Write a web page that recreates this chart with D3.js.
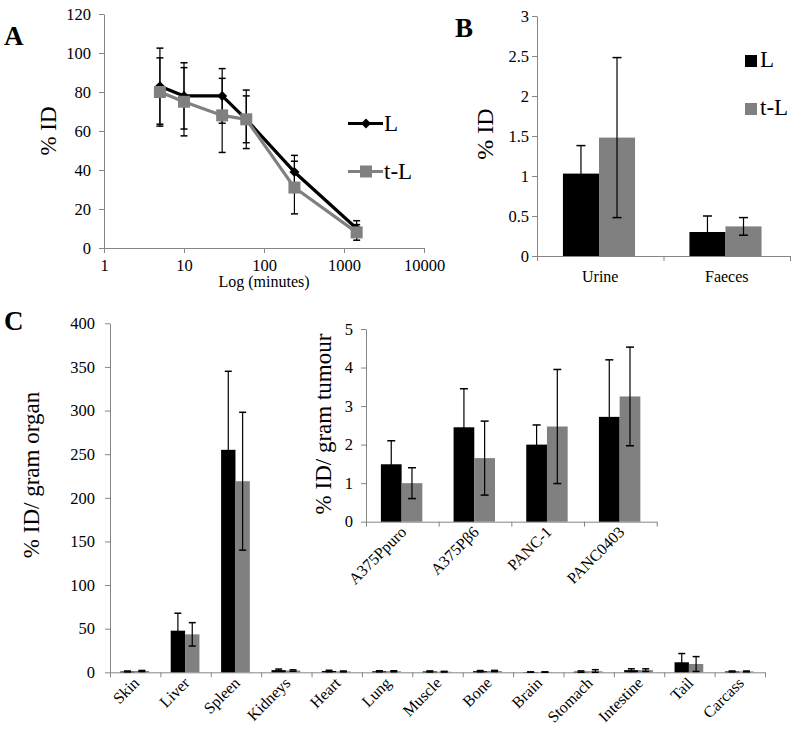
<!DOCTYPE html>
<html>
<head>
<meta charset="utf-8">
<script src="https://cdn.jsdelivr.net/npm/d3@7"></script>
<style>
  body { margin: 0; background: #fff; }
  svg text { font-family: "Liberation Serif", "Times New Roman", serif; }
</style>
</head>
<body>
<script>
// panel A - % ID over time (log minutes)
var times = [5, 10, 30, 60, 240, 1440];
var aL = [83, 78, 78, 66, 39, 10];
var aLErr = [19.5, 17, 14, 15, 8.5, 4];
var aT = [80, 75, 68, 66, 31, 8];
var aTErr = [17.5, 17.5, 19, 12, 13.5, 4];
var aYTicks = [0, 20, 40, 60, 80, 100, 120];
var aXTicks = [1, 10, 100, 1000, 10000];

// panel B - excretion
var excreta = ['Urine', 'Faeces'];
var bL = [1.03, 0.30];
var bLErr = [0.35, 0.20];
var bT = [1.48, 0.37];
var bTErr = [1.00, 0.11];
var bYTicks = [0, 0.5, 1, 1.5, 2, 2.5, 3];

// panel C - organs
var organs = ['Skin', 'Liver', 'Spleen', 'Kidneys', 'Heart', 'Lung', 'Muscle', 'Bone', 'Brain', 'Stomach', 'Intestine', 'Tail', 'Carcass'];
var cL = [1, 47.7, 255, 2.5, 1.5, 1.2, 1, 1.3, 0.3, 0.8, 2.5, 11.5, 1];
var cLErr = [0.5, 20, 90, 1.2, 0.8, 0.6, 0.6, 0.7, 0.2, 0.8, 1.5, 10, 0.5];
var cT = [1.5, 43.5, 219, 2, 1, 1.2, 0.7, 1.5, 0.3, 1.2, 2.5, 9.5, 1];
var cTErr = [0.6, 13.4, 79, 0.8, 0.5, 0.6, 0.4, 0.7, 0.2, 1.8, 1.5, 8.5, 0.5];
var cYTicks = [0, 50, 100, 150, 200, 250, 300, 350, 400];

// panel C inset - tumours
var tumours = ['A375Ppuro', 'A375P\u03B26', 'PANC-1', 'PANC0403'];
var tL = [1.49, 2.45, 2.0, 2.72];
var tLErr = [0.61, 1.0, 0.51, 1.48];
var tT = [1.0, 1.65, 2.47, 3.25];
var tTErr = [0.4, 0.96, 1.48, 1.28];
var tYTicks = [0, 1, 2, 3, 4, 5];

var series = ['L', 't-L'];
var colors = {'L': '#000000', 't-L': '#808080'};
var FONT = '"Liberation Serif", "Times New Roman", serif';
var AX = '#868686';

var svg = d3.select('body').append('svg')
    .attr('width', 796)
    .attr('height', 736);

var styleAxis = (g, size) => {
    g.attr('font-family', FONT).attr('font-size', size || 16);
    g.select('.domain').attr('stroke', AX);
    g.selectAll('.tick line').attr('stroke', AX);
    g.selectAll('.tick text').attr('fill', '#000');
}

var panelLabel = (txt, x, y) => {
    svg.append('text').attr('x', x).attr('y', y)
        .attr('font-size', 27).attr('font-weight', 'bold')
        .text(txt);
}

var yLabel = (txt, x, y, size) => {
    svg.append('g')
        .attr('transform', 'translate(' + x + ',' + y + ') rotate(-90)')
        .append('text')
            .attr('text-anchor', 'middle')
            .attr('font-family', FONT)
            .attr('font-size', size)
            .text(txt);
}

// slanted category labels under a band scale
var slantLabels = (cats, x, yPos) => {
    svg.append('g').selectAll('g')
        .data(cats)
        .enter()
        .append('g')
            .attr('transform', d => 'translate(' + (x(d) + x.bandwidth() / 2 + 5) + ',' + yPos + ') rotate(-45)')
        .append('text')
            .attr('text-anchor', 'end')
            .attr('font-family', FONT)
            .attr('font-size', 16)
            .text(d => d);
}

var errBar = (g, cx, yTop, yBot, w) => {
    g.append('line').attr('x1', cx).attr('x2', cx).attr('y1', yTop).attr('y2', yBot)
        .attr('stroke', '#000').attr('stroke-width', 1.2);
    [yTop, yBot].forEach(yy => {
        g.append('line').attr('x1', cx - w / 2).attr('x2', cx + w / 2).attr('y1', yy).attr('y2', yy)
            .attr('stroke', '#000').attr('stroke-width', 1.5);
    });
}

// ---------- Panel A ----------
var xA = d3.scaleLog().domain([1, 10000]).range([104, 424]);
var yA = d3.scaleLinear().domain([0, 120]).range([248, 14]);

svg.append('g').attr('transform', 'translate(104,0)')
    .call(d3.axisLeft(yA).tickValues(aYTicks).tickSize(5).tickSizeOuter(0).tickPadding(8))
    .call(g => styleAxis(g, 16.5));
svg.append('g').attr('transform', 'translate(0,248)')
    .call(d3.axisBottom(xA).tickValues(aXTicks).tickFormat(d3.format('d')).tickSize(5).tickSizeOuter(0).tickPadding(6))
    .call(g => styleAxis(g, 16.5));

var aData = [
    {key: 'L', vals: aL, errs: aLErr},
    {key: 't-L', vals: aT, errs: aTErr}
];
var gA = svg.append('g');
aData.forEach(s => {
    s.vals.forEach((v, i) => errBar(gA, xA(times[i]), yA(v + s.errs[i]), yA(v - s.errs[i]), 7));
});
var line = d3.line().x(d => xA(d[0])).y(d => yA(d[1]));
aData.forEach(s => {
    gA.append('path')
        .datum(times.map((t, i) => [t, s.vals[i]]))
        .attr('d', line)
        .attr('fill', 'none')
        .attr('stroke', colors[s.key])
        .attr('stroke-width', 3.2)
        .attr('stroke-linejoin', 'round');
});
var diamond = d3.symbol(d3.symbolSquare, 50);
var square = d3.symbol(d3.symbolSquare, 144);
aData.forEach(s => {
    gA.selectAll('.m' + s.key)
        .data(times.map((t, i) => [t, s.vals[i]]))
        .enter()
        .append('path')
            .attr('d', s.key === 'L' ? diamond : square)
            .attr('transform', d => 'translate(' + xA(d[0]) + ',' + yA(d[1]) + ')' + (s.key === 'L' ? ' rotate(45)' : ''))
            .attr('fill', colors[s.key]);
});
// legend A
[['L', 123.5, 131], ['t-L', 171.5, 179]].forEach(r => {
    svg.append('line').attr('x1', 348).attr('x2', 383).attr('y1', r[1]).attr('y2', r[1])
        .attr('stroke', colors[r[0]]).attr('stroke-width', 3.2);
    svg.append('path').attr('d', r[0] === 'L' ? diamond : square)
        .attr('transform', 'translate(366,' + r[1] + ')' + (r[0] === 'L' ? ' rotate(45)' : ''))
        .attr('fill', colors[r[0]]);
    svg.append('text').attr('x', 384).attr('y', r[2]).attr('font-size', 23).text(r[0]);
});
yLabel('% ID', 56, 131, 23);
svg.append('text').attr('x', 264).attr('y', 287).attr('text-anchor', 'middle')
    .attr('font-size', 16).text('Log (minutes)');
panelLabel('A', 4, 45);

// ---------- grouped bar helper ----------
var groupedBars = (cats, vL, eL, vT, eT, x0, y, capW, opts) => {
    var n = cats.length;
    var idx = d3.scaleLinear().domain([0, n]).range(x0.range());
    svg.append('g').attr('transform', 'translate(' + x0.range()[0] + ',0)')
        .call(d3.axisLeft(y).tickValues(opts.yTicks).tickFormat(d3.format('~g')).tickSize(5).tickSizeOuter(0).tickPadding(opts.pad))
        .call(g => styleAxis(g, opts.tickFont));
    svg.append('g').attr('transform', 'translate(0,' + y.range()[0] + ')')
        .call(d3.axisBottom(idx).tickValues(d3.range(n + 1)).tickFormat('').tickSize(5).tickSizeOuter(0))
        .call(g => styleAxis(g));

    var bw = x0.bandwidth();
    var x1 = d3.scaleBand().domain(series).range([bw * 0.205, bw * 0.775]).padding(0);
    var rows = [];
    cats.forEach((c, i) => {
        rows.push({cat: c, key: 'L', v: vL[i], e: eL[i]});
        rows.push({cat: c, key: 't-L', v: vT[i], e: eT[i]});
    });
    var g = svg.append('g');
    g.selectAll('rect')
        .data(rows)
        .enter()
        .append('rect')
            .attr('x', d => x0(d.cat) + x1(d.key))
            .attr('y', d => y(d.v))
            .attr('width', x1.bandwidth())
            .attr('height', d => y(0) - y(d.v))
            .attr('fill', d => colors[d.key]);
    rows.forEach(d => {
        errBar(g, x0(d.cat) + x1(d.key) + x1.bandwidth() / 2, y(d.v + d.e), y(Math.max(d.v - d.e, 0)), capW);
    });
    return g;
}

// ---------- Panel B ----------
var xB = d3.scaleBand().domain(excreta).range([537, 790]).padding(0);
var yB = d3.scaleLinear().domain([0, 3]).range([256, 16]);
groupedBars(excreta, bL, bLErr, bT, bTErr, xB, yB, 9, {yTicks: bYTicks, pad: 3, tickFont: 16.5});
svg.append('g').selectAll('text')
    .data(excreta)
    .enter()
    .append('text')
        .attr('x', d => xB(d) + xB.bandwidth() / 2)
        .attr('y', 282)
        .attr('text-anchor', 'middle')
        .attr('font-size', 16)
        .text(d => d);
[['L', 55, 67], ['t-L', 103, 115]].forEach(r => {
    svg.append('rect').attr('x', 745).attr('y', r[1]).attr('width', 12).attr('height', 12).attr('fill', colors[r[0]]);
    svg.append('text').attr('x', 760).attr('y', r[2]).attr('font-size', 23).text(r[0]);
});
yLabel('% ID', 493, 134, 24);
panelLabel('B', 455, 37);

// ---------- Panel C ----------
var xC = d3.scaleBand().domain(organs).range([110, 765]).padding(0);
var yC = d3.scaleLinear().domain([0, 400]).range([672.3, 323.3]);
groupedBars(organs, cL, cLErr, cT, cTErr, xC, yC, 7, {yTicks: cYTicks, pad: 10, tickFont: 16.5});
slantLabels(organs, xC, 684);
yLabel('% ID/ gram organ', 39, 475, 23);
panelLabel('C', 4, 330);

// inset
var xT = d3.scaleBand().domain(tumours).range([366, 656.7]).padding(0);
var yT = d3.scaleLinear().domain([0, 5]).range([521.7, 329]);
groupedBars(tumours, tL, tLErr, tT, tTErr, xT, yT, 8, {yTicks: tYTicks, pad: 8, tickFont: 16.5});
slantLabels(tumours, xT, 533);
yLabel('% ID/ gram tumour', 331, 424, 23);
</script>
</body>
</html>
